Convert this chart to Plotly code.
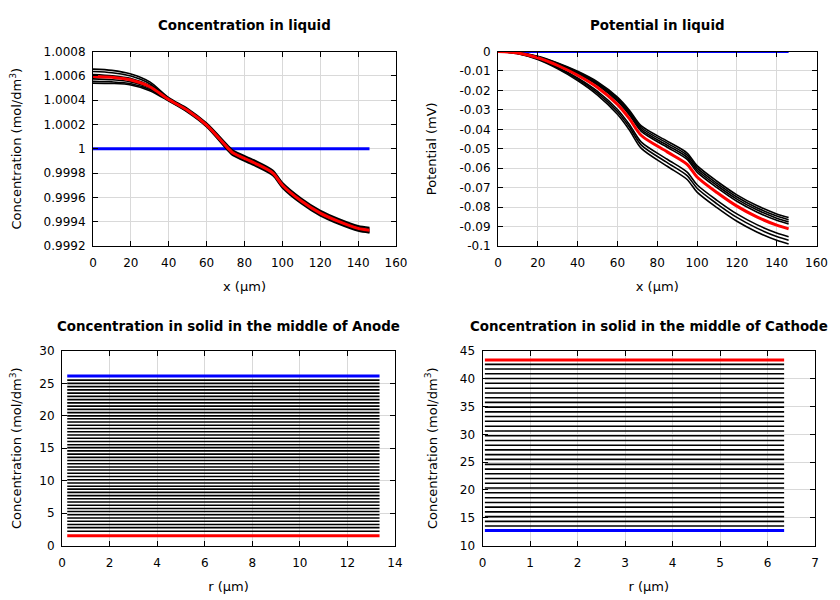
import plotly.graph_objects as go

FONT = "DejaVu Sans"

# ---------------- Top-left: concentration in liquid ----------------
x_liq = [0, 10, 20, 30, 40, 50, 60, 72, 74, 85, 95, 100, 110, 120, 130, 140, 146]
c_red = [1.000595, 1.000588, 1.000565, 1.000510, 1.000405, 1.000315, 1.000195, 0.999993,
         0.999965, 0.999885, 0.999800, 0.999700, 0.999570, 0.999470, 0.999400, 0.999345, 0.999330]
c_blue = [1.0] * len(x_liq)
c_b1 = [1.000655, 1.000645, 1.000615, 1.000550, 1.000420, 1.000330, 1.000210, 1.000015, 0.999987,
        0.999907, 0.999822, 0.999722, 0.999592, 0.999492, 0.999422, 0.999367, 0.999352]
c_b2 = [1.000635, 1.000625, 1.000598, 1.000535, 1.000415, 1.000324, 1.000204, 1.000006, 0.999978,
        0.999898, 0.999813, 0.999713, 0.999583, 0.999483, 0.999413, 0.999358, 0.999343]
c_b3 = [1.000610, 1.000600, 1.000578, 1.000520, 1.000408, 1.000318, 1.000198, 0.999998, 0.999970,
        0.999890, 0.999805, 0.999705, 0.999575, 0.999475, 0.999405, 0.999350, 0.999335]
c_b4 = [1.000575, 1.000568, 1.000550, 1.000500, 1.000400, 1.000311, 1.000191, 0.999987, 0.999959,
        0.999879, 0.999794, 0.999694, 0.999564, 0.999464, 0.999394, 0.999339, 0.999324]
c_b5 = [1.000555, 1.000550, 1.000535, 1.000488, 1.000396, 1.000305, 1.000185, 0.999979, 0.999951,
        0.999871, 0.999786, 0.999686, 0.999556, 0.999456, 0.999386, 0.999331, 0.999316]
c_b6 = [1.000540, 1.000537, 1.000525, 1.000478, 1.000392, 1.000300, 1.000180, 0.999971, 0.999943,
        0.999863, 0.999778, 0.999678, 0.999548, 0.999448, 0.999378, 0.999323, 0.999308]
c_black = [c_b1, c_b2, c_b3, c_b4, c_b5, c_b6]
c_ticks = [0.9992, 0.9994, 0.9996, 0.9998, 1.0, 1.0002, 1.0004, 1.0006, 1.0008]
c_ticktext = ["0.9992", "0.9994", "0.9996", "0.9998", "1", "1.0002", "1.0004", "1.0006", "1.0008"]

# ---------------- Top-right: potential in liquid ----------------
x_pot = [0, 10, 20, 30, 40, 50, 60, 66, 72, 85, 95, 100, 110, 120, 130, 140, 146]
p_red = [0, -0.0008, -0.0032, -0.0072, -0.0122, -0.0185, -0.0272, -0.0345, -0.0432, -0.0516,
         -0.0580, -0.0645, -0.0725, -0.0795, -0.0850, -0.0893, -0.0912]
p_blue = [0.0] * len(x_pot)
p_u1 = [0, -0.00057, -0.0025, -0.00592, -0.01017, -0.0156, -0.02343, -0.03015, -0.03827, -0.04609,
        -0.0522, -0.0587, -0.0667, -0.0737, -0.0792, -0.0835, -0.0854]
p_u2 = [0, -0.00061, -0.00264, -0.00617, -0.01055, -0.01615, -0.02414, -0.03097, -0.0392, -0.04713,
        -0.0533, -0.0598, -0.0678, -0.0748, -0.0803, -0.0846, -0.0865]
p_u3 = [0, -0.00066, -0.00277, -0.00641, -0.01094, -0.0167, -0.02486, -0.0318, -0.04014, -0.04818,
        -0.0544, -0.0609, -0.0689, -0.0759, -0.0814, -0.0857, -0.0876]
p_u4 = [0, -0.0007, -0.0029, -0.00665, -0.01133, -0.01725, -0.02558, -0.03263, -0.04108, -0.04923,
        -0.0555, -0.0620, -0.0700, -0.0770, -0.0825, -0.0868, -0.0887]
p_l1 = [0, -0.00096, -0.00368, -0.00808, -0.0136, -0.0205, -0.0298, -0.0375, -0.0466, -0.0554,
        -0.0620, -0.0685, -0.0765, -0.0835, -0.0890, -0.0933, -0.0952]
p_l2 = [0, -0.00103, -0.0039, -0.00848, -0.01423, -0.0214, -0.03097, -0.03885, -0.04813, -0.05711,
        -0.0638, -0.0703, -0.0783, -0.0853, -0.0908, -0.0951, -0.0970]
p_l3 = [0, -0.00111, -0.00414, -0.00892, -0.01493, -0.0224, -0.03227, -0.04035, -0.04983, -0.05901,
        -0.0658, -0.0723, -0.0803, -0.0873, -0.0928, -0.0971, -0.0990]
p_black = [p_u1, p_u2, p_u3, p_u4, p_l1, p_l2, p_l3]
p_ticks = [0, -0.01, -0.02, -0.03, -0.04, -0.05, -0.06, -0.07, -0.08, -0.09, -0.1]
p_ticktext = ["0", "-0.01", "-0.02", "-0.03", "-0.04", "-0.05", "-0.06", "-0.07", "-0.08", "-0.09", "-0.1"]

# ---------------- Bottom-left: anode solid concentration ----------------
r_anode = [0.22, 13.35]
anode_blue = 26.15
anode_red = 1.5
anode_black = [25.5, 25.0, 24.5, 24.0, 23.5, 23.0, 22.5, 22.0, 21.5, 21.0, 20.5, 20.0,
               19.55, 19.05, 18.55, 18.05, 17.55, 17.05, 16.55, 16.05, 15.55,
               15.1, 14.6, 14.1, 13.6, 13.1, 12.6, 12.1,
               11.65, 11.15, 10.65, 10.15, 9.65, 9.15,
               8.7, 8.2, 7.7, 7.2, 6.7, 6.2, 5.7,
               5.25, 4.75, 4.25, 3.75, 3.25, 2.75, 2.2]

# ---------------- Bottom-right: cathode solid concentration ----------------
r_cathode = [0.05, 6.35]
cathode_red = 43.38
cathode_blue = 12.7
cathode_black = [42.6, 41.75, 40.9, 40.05, 39.2, 38.3, 37.45, 36.6, 35.75, 34.9, 34.05, 33.2,
                 32.35, 31.45, 30.6, 29.75, 28.9, 28.05, 27.2, 26.35, 25.5, 24.6, 23.75, 22.9,
                 22.05, 21.2, 20.35, 19.5, 18.6, 17.75, 16.9, 16.05, 15.2, 14.35, 13.5]

BLACK_W = 1.6
COL_W = 3

# the page body has an 8px margin: figure is 832x592 placed at (8, 8)
OFF = 8
W, H = 840 - OFF, 600 - OFF

def xp(px):
    return (px - OFF) / W

def yp(py):
    return 1 - (py - OFF) / H

fig = go.Figure()

def add(x, y, color, width, ax, smooth=False):
    line = dict(color=color, width=width)
    if smooth:
        line.update(shape="spline", smoothing=0.8)
    fig.add_trace(go.Scatter(x=x, y=y, mode="lines", line=line,
                             xaxis="x" + ax, yaxis="y" + ax, showlegend=False, hoverinfo="skip"))

# panel 1
add(x_liq, c_blue, "#0000ff", COL_W, "")
for s in c_black:
    add(x_liq, s, "black", BLACK_W, "", smooth=True)
add(x_liq, c_red, "#ff0000", COL_W, "", smooth=True)
# panel 2
add(x_pot, p_blue, "#0000ff", COL_W, "2")
for s in p_black:
    add(x_pot, s, "black", BLACK_W, "2", smooth=True)
add(x_pot, p_red, "#ff0000", COL_W, "2", smooth=True)
# panel 3
for v in anode_black:
    add(r_anode, [v, v], "black", BLACK_W, "3")
add(r_anode, [anode_blue, anode_blue], "#0000ff", COL_W, "3")
add(r_anode, [anode_red, anode_red], "#ff0000", COL_W, "3")
# panel 4
for v in cathode_black:
    add(r_cathode, [v, v], "black", BLACK_W, "4")
add(r_cathode, [cathode_blue, cathode_blue], "#0000ff", COL_W, "4")
add(r_cathode, [cathode_red, cathode_red], "#ff0000", COL_W, "4")

tickfont = dict(family=FONT, size=12, color="black")
titlefont = dict(family=FONT, size=13, color="black")

def axis(domain, anchor, rng, title, standoff, **kw):
    d = dict(domain=domain, anchor=anchor, range=rng, showline=True, linecolor="black",
             linewidth=1, mirror="ticks", ticks="inside", ticklen=5, tickcolor="black",
             showgrid=True, gridcolor="#d9d9d9", gridwidth=1, zeroline=False, automargin=False,
             tickfont=tickfont, title=dict(text=title, font=titlefont, standoff=standoff))
    d.update(kw)
    return d

CONC = "Concentration (mol/dm<sup>3</sup>)"
xd1 = [xp(93), xp(396)]
xd2 = [xp(498), xp(816.5)]
xd3 = [xp(62), xp(395)]
xd4 = [xp(482.5), xp(815)]
yd_top = [yp(246), yp(51.5)]
yd_bot = [yp(545.5), yp(351)]

fig.update_layout(
    width=W, height=H,
    margin=dict(l=0, r=0, t=0, b=0, autoexpand=False),
    paper_bgcolor="white", plot_bgcolor="white",
    font=dict(family=FONT, color="black"),
    xaxis=axis(xd1, "y", [0, 160], "x (µm)", 12, dtick=20, ticklabelstandoff=6),
    yaxis=axis(yd_top, "x", [0.9992, 1.0008], CONC, 23, tickvals=c_ticks, ticktext=c_ticktext,
               ticklabelstandoff=4),
    xaxis2=axis(xd2, "y2", [0, 160], "x (µm)", 12, dtick=20, ticklabelstandoff=6),
    yaxis2=axis(yd_top, "x2", [-0.1, 0], "Potential (mV)", 19, tickvals=p_ticks, ticktext=p_ticktext,
                ticklabelstandoff=4),
    xaxis3=axis(xd3, "y3", [0, 14], "r (µm)", 12, dtick=2, ticklabelstandoff=6),
    yaxis3=axis(yd_bot, "x3", [0, 30], CONC, 19, dtick=5, ticklabelstandoff=4),
    xaxis4=axis(xd4, "y4", [0, 7], "r (µm)", 12, dtick=1, ticklabelstandoff=6),
    yaxis4=axis(yd_bot, "x4", [10, 45], CONC, 19, dtick=5, ticklabelstandoff=4),
)

titles = [
    ("Concentration in liquid", (xd1[0] + xd1[1]) / 2, yp(26)),
    ("Potential in liquid", (xd2[0] + xd2[1]) / 2, yp(26)),
    ("Concentration in solid in the middle of Anode", (xd3[0] + xd3[1]) / 2, yp(326)),
    ("Concentration in solid in the middle of Cathode", (xd4[0] + xd4[1]) / 2, yp(326)),
]
for t, xx, yy in titles:
    fig.add_annotation(text="<b>" + t + "</b>", x=xx, y=yy, xref="paper", yref="paper",
                       showarrow=False, xanchor="center", yanchor="middle",
                       font=dict(family=FONT, size=13.4, color="black"))

fig.write_html("out.html")
